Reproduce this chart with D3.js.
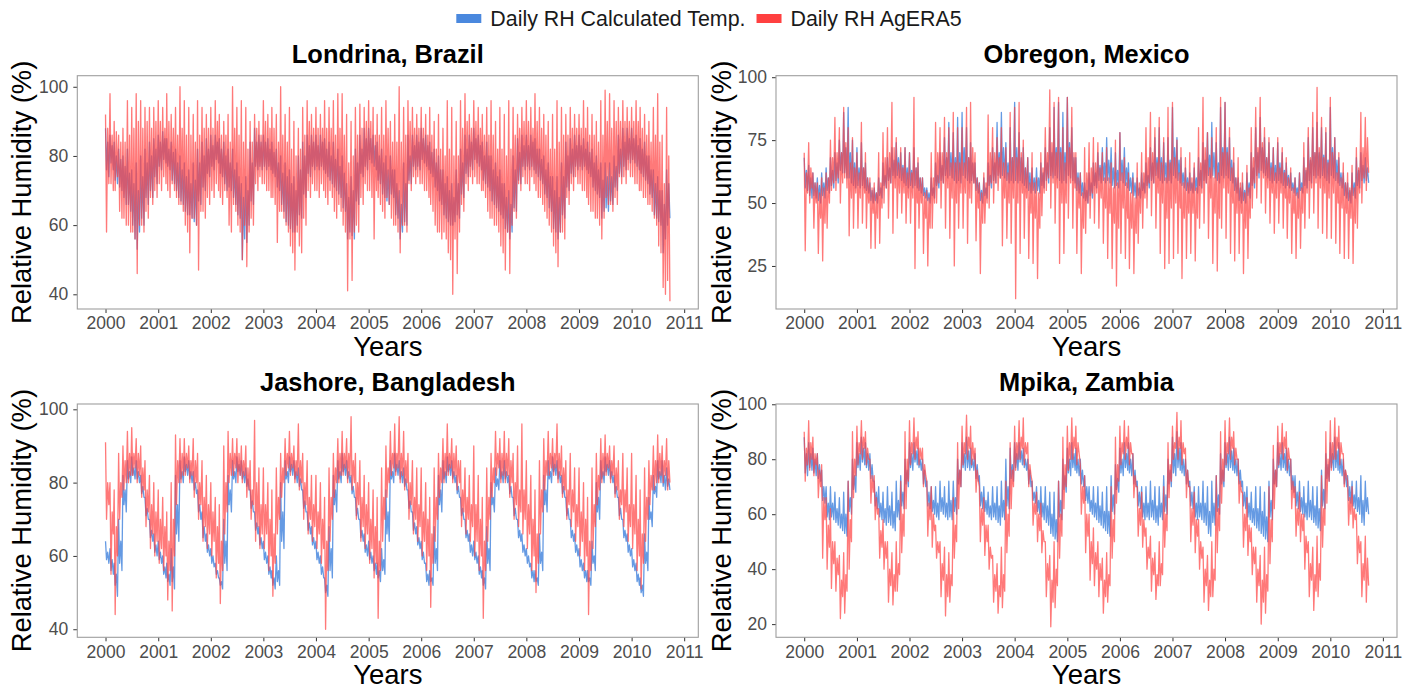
<!DOCTYPE html>
<html>
<head>
<meta charset="utf-8">
<script src="https://cdn.jsdelivr.net/npm/d3@7"></script>
<style>
body { margin: 0; background: #fff; }
svg text { font-family: "Liberation Sans", Arial, Helvetica, sans-serif; }
</style>
</head>
<body>
<svg id="chart" width="1417" height="691"></svg>
<script>
var yearTicks = [2000, 2001, 2002, 2003, 2004, 2005, 2006, 2007, 2008, 2009, 2010, 2011];
var seriesNames = ["Daily RH Calculated Temp.", "Daily RH AgERA5"];
var seriesColors = ["#4a88de", "#ff4040"];
var weekDays = [1, 8, 16, 24];

// roughly weekly values (4 per month), Jan 2000 - Sep 2010
var londrinaCalc = [
  88,76,84,74, 86,78,83,76, 84,73,80,72, 82,71,79,70, 80,68,77,66, 82,66,75,64, 76,60,72,56, 78,53,70,58, 80,62,74,60, 82,68,78,66, 84,70,80,68, 85,74,82,72,
  86,77,84,76, 87,79,85,78, 85,77,82,76, 84,73,81,72, 82,70,78,68, 80,67,76,66, 78,64,74,63, 76,63,72,62, 78,61,73,60, 82,67,78,66, 84,71,80,70, 85,75,82,74,
  86,77,83,76, 86,79,84,78, 85,75,82,74, 84,72,80,70, 82,71,78,70, 82,68,76,66, 78,63,74,62, 72,50,68,56, 74,55,70,60, 84,67,78,66, 88,77,84,76, 86,77,84,76,
  86,77,84,76, 85,77,82,76, 84,75,81,74, 82,71,78,70, 80,66,75,64, 78,61,74,60, 76,59,72,58, 74,58,70,60, 80,63,76,62, 84,69,80,68, 86,75,83,74, 86,77,84,76,
  86,77,83,76, 86,77,84,76, 85,75,82,74, 84,73,80,72, 84,71,79,70, 82,69,77,68, 80,65,75,64, 72,56,68,58, 74,57,70,56, 82,67,78,66, 86,75,82,74, 88,77,85,76,
  88,79,85,78, 86,77,83,76, 84,73,80,72, 82,69,78,68, 80,67,76,66, 80,69,76,68, 76,63,72,62, 70,56,66,58, 78,61,72,60, 86,73,80,72, 86,77,83,76, 86,77,84,76,
  88,79,85,78, 86,77,83,76, 84,75,81,74, 82,71,78,70, 80,67,76,66, 76,63,72,62, 74,61,70,60, 72,60,68,61, 76,63,72,62, 82,69,78,68, 86,75,82,74, 86,77,84,76,
  88,79,85,78, 86,77,83,76, 84,73,80,72, 84,71,80,70, 80,67,76,66, 78,65,74,64, 76,63,72,62, 72,59,68,58, 70,56,66,58, 80,65,76,64, 85,73,81,72, 86,77,83,76,
  86,77,83,76, 86,77,84,76, 85,75,82,74, 82,73,79,72, 80,69,76,68, 78,65,74,64, 74,59,70,58, 74,56,68,58, 78,63,74,62, 84,71,80,70, 85,75,82,74, 86,77,83,76,
  86,77,83,76, 85,77,82,76, 84,75,81,74, 82,71,78,70, 80,69,76,68, 78,62,73,64, 78,65,74,64, 78,67,74,66, 80,71,77,70, 86,75,82,74, 88,77,84,76, 88,79,85,78,
  88,79,85,78, 86,77,83,76, 85,75,82,74, 84,73,80,72, 80,69,76,68, 76,63,72,62, 74,61,70,60, 70,52,66,56, 76,60,72,62
];
var londrinaAgera = [
  92,58,88,72, 98,72,86,70, 90,70,87,74, 86,64,84,62, 88,62,84,60, 96,60,86,58, 94,58,88,56, 98,46,90,60, 96,60,88,58, 94,64,90,62, 94,68,88,66, 94,70,90,68,
  96,72,90,70, 94,74,88,72, 98,70,90,68, 92,72,88,70, 94,68,86,66, 100,66,88,64, 96,60,86,58, 94,52,86,62, 92,62,84,60, 96,47,86,64, 94,64,88,62, 92,68,88,66,
  94,70,88,68, 96,72,90,70, 92,68,86,66, 90,70,86,68, 92,60,84,58, 100,66,88,64, 94,60,86,58, 96,50,84,60, 94,48,82,58, 90,62,84,60, 92,72,88,70, 90,74,86,72,
  96,72,90,70, 92,70,88,68, 94,68,88,66, 92,55,84,64, 100,64,86,62, 92,60,84,58, 94,54,82,52, 90,47,80,58, 88,54,82,52, 94,62,86,60, 96,70,90,68, 92,72,88,70,
  94,70,88,68, 92,72,88,70, 96,68,88,66, 94,70,88,68, 96,64,86,62, 98,66,88,64, 98,60,86,58, 92,41,78,56, 90,44,80,58, 94,60,86,58, 95,68,88,66, 94,72,90,70,
  96,70,90,68, 94,56,86,70, 92,68,86,66, 94,64,86,62, 96,68,88,66, 90,62,84,60, 92,60,84,58, 100,52,84,60, 94,60,86,58, 96,72,90,70, 94,74,88,72, 92,74,88,72,
  94,72,88,70, 92,70,86,68, 94,66,86,64, 90,60,82,58, 92,58,82,56, 88,58,80,56, 96,52,82,50, 94,40,80,56, 90,46,80,58, 96,66,88,64, 98,72,90,70, 92,74,88,72,
  96,74,90,72, 94,72,88,70, 92,70,86,68, 94,64,86,62, 96,62,86,60, 90,60,82,58, 94,54,82,52, 92,47,80,58, 96,46,82,60, 94,64,86,62, 92,72,88,70, 94,74,90,72,
  96,72,90,70, 94,74,88,72, 98,70,90,68, 94,68,88,66, 92,64,86,62, 90,60,82,58, 92,54,82,52, 96,48,84,58, 94,58,86,56, 92,68,86,66, 94,72,88,70, 92,74,88,72,
  92,72,88,70, 96,70,88,68, 94,66,86,64, 92,64,86,62, 90,62,84,60, 96,56,86,62, 99,68,90,66, 98,66,88,64, 96,68,90,66, 94,74,90,72, 96,74,90,72, 94,76,90,74,
  94,74,90,72, 96,72,90,70, 94,70,88,68, 92,68,86,66, 90,66,84,64, 94,62,86,60, 98,54,84,52, 86,42,72,40, 94,44,80,38
];
var obregonCalc = [
  68,56,63,55, 65,53,60,52, 62,53,58,52, 60,51,57,50, 62,53,58,52, 64,55,60,54, 68,57,63,56, 70,59,66,58, 75,63,70,62, 86,62,72,60, 88,60,70,58, 75,57,66,56,
  72,57,64,56, 74,57,64,56, 66,55,60,54, 58,51,55,50, 56,51,54,50, 60,53,56,52, 66,57,61,56, 68,59,64,58, 72,61,67,60, 74,61,68,60, 70,59,65,58, 72,57,64,56,
  70,57,63,56, 72,57,64,56, 66,55,60,54, 60,53,56,52, 56,51,54,50, 60,53,56,52, 66,57,61,56, 70,59,65,58, 76,61,68,60, 82,61,70,60, 78,59,68,58, 84,59,70,58,
  86,61,72,60, 80,59,68,58, 74,59,66,58, 66,55,60,54, 58,51,55,50, 60,53,56,52, 66,57,61,56, 72,59,66,58, 82,61,70,60, 86,61,72,60, 74,59,66,58, 80,59,68,58,
  90,59,72,58, 78,59,68,58, 72,57,64,56, 68,55,62,54, 64,55,60,54, 64,55,60,54, 66,57,62,56, 72,59,66,58, 80,61,70,60, 88,61,72,60, 90,59,72,58, 86,59,70,58,
  92,61,74,60, 80,59,68,58, 68,55,62,54, 62,53,58,52, 58,51,55,50, 62,53,58,52, 66,57,62,56, 70,59,65,58, 72,59,66,58, 76,59,67,58, 72,57,64,56, 70,57,63,56,
  78,59,67,58, 72,57,64,56, 66,55,60,54, 62,53,58,52, 60,53,56,52, 62,55,58,54, 66,57,61,56, 72,59,66,58, 76,61,68,60, 80,59,68,58, 74,59,66,58, 76,59,67,58,
  88,61,72,60, 76,59,67,58, 68,57,62,56, 64,55,60,54, 62,55,58,54, 64,55,60,54, 68,57,63,56, 74,59,67,58, 78,61,69,60, 82,61,70,60, 74,59,66,58, 88,61,72,60,
  90,61,72,60, 76,59,67,58, 66,55,60,54, 60,51,56,50, 58,51,55,50, 62,53,58,52, 70,57,64,56, 80,61,70,60, 84,63,72,62, 76,61,68,60, 74,59,66,58, 72,59,65,58,
  74,59,66,58, 70,57,63,56, 66,57,61,56, 62,55,58,54, 60,53,56,52, 62,55,58,54, 68,57,63,56, 76,59,67,58, 80,61,70,60, 82,61,70,60, 80,61,69,60, 78,59,67,58,
  88,61,72,60, 76,59,67,58, 68,57,62,56, 62,53,58,52, 58,51,55,50, 62,53,58,52, 68,57,63,56, 70,59,65,58, 68,59,64,58
];
var obregonAgera = [
  70,31,62,54, 74,50,64,56, 62,40,58,50, 58,30,54,44, 60,27,56,42, 62,40,60,50, 75,55,68,58, 84,55,70,60, 80,50,70,58, 88,60,74,56, 80,37,66,52, 76,40,64,54,
  70,40,62,52, 82,42,64,54, 70,40,60,50, 60,32,56,46, 58,32,54,44, 70,34,58,48, 78,50,68,56, 80,44,70,58, 90,38,72,56, 76,44,66,54, 72,46,64,54, 72,42,62,52,
  70,42,62,52, 92,24,64,50, 68,40,60,50, 60,30,54,44, 55,25,52,40, 70,40,60,50, 82,50,70,58, 80,48,70,58, 84,40,70,56, 80,36,66,52, 86,25,66,50, 80,40,66,54,
  80,40,66,54, 88,34,68,52, 90,50,72,58, 70,35,60,48, 58,22,54,42, 62,42,58,50, 85,48,70,58, 80,50,70,58, 76,55,68,60, 80,33,66,52, 72,36,62,50, 86,34,68,52,
  88,12,68,50, 90,30,70,54, 75,36,64,52, 68,28,58,46, 70,26,58,44, 60,20,54,40, 70,45,64,54, 80,55,70,60, 95,48,74,58, 90,42,70,56, 92,26,70,50, 80,30,66,50,
  92,44,72,58, 88,40,70,56, 70,30,60,48, 62,22,54,40, 72,38,62,50, 74,44,64,54, 76,42,66,54, 74,40,64,52, 70,34,60,48, 72,28,60,46, 66,24,56,42, 75,17,58,40,
  78,30,62,48, 68,28,58,44, 62,24,54,40, 60,22,52,38, 66,34,58,46, 70,40,62,52, 80,48,68,58, 86,45,70,58, 80,40,66,54, 84,30,66,50, 76,24,60,44, 88,26,66,48,
  90,28,68,50, 75,30,62,48, 72,20,58,44, 68,28,58,46, 70,30,60,46, 66,27,56,44, 80,40,66,54, 92,42,72,58, 78,36,64,52, 76,26,60,46, 80,23,62,44, 92,40,70,56,
  90,36,70,54, 80,30,64,50, 72,27,60,46, 68,30,58,46, 62,22,54,40, 65,28,56,44, 80,48,68,58, 88,52,72,62, 92,50,74,60, 80,46,68,56, 76,42,64,54, 72,38,62,52,
  76,42,64,54, 72,40,62,52, 68,36,60,50, 64,30,56,46, 60,28,54,44, 62,32,56,46, 74,40,64,54, 80,44,68,56, 86,46,70,58, 96,40,72,56, 84,38,68,54, 80,36,66,52,
  92,36,70,54, 76,34,62,50, 70,30,60,48, 66,28,58,46, 62,28,56,44, 65,26,56,42, 72,40,64,54, 86,50,72,60, 84,55,76,62
];
var jashoreCalc = [
  64,59,61,58, 62,56,59,55, 58,52,55,49, 70,58,64,56, 82,74,78,72, 86,81,83,80, 87,82,84,81, 86,81,83,80, 82,77,79,76, 76,71,73,70, 70,65,67,64, 66,61,63,60,
  64,59,61,58, 60,55,57,54, 58,53,55,52, 62,53,57,51, 82,66,74,64, 86,81,83,80, 87,83,85,82, 86,81,83,80, 83,78,80,77, 78,72,74,70, 72,65,68,64, 66,61,63,60,
  62,58,60,57, 58,55,56,54, 54,52,53,51, 70,58,64,56, 82,74,78,72, 86,81,83,80, 87,83,85,82, 86,81,83,80, 84,79,81,78, 78,73,75,72, 72,67,69,66, 68,63,65,62,
  64,59,61,58, 60,55,57,54, 56,52,54,51, 60,53,56,52, 80,64,72,62, 86,81,83,80, 87,83,85,82, 86,81,83,80, 84,79,81,78, 78,73,75,72, 72,67,69,66, 68,63,65,62,
  64,59,61,58, 60,55,57,54, 54,50,52,49, 68,56,62,54, 82,74,78,72, 86,81,83,80, 88,83,85,82, 86,81,83,80, 82,77,79,76, 76,71,73,70, 70,65,67,64, 66,61,63,60,
  64,59,61,58, 60,56,58,55, 58,54,56,53, 62,56,59,55, 78,66,72,64, 86,81,83,80, 88,83,85,82, 86,81,83,80, 84,79,81,78, 78,73,75,72, 72,67,69,66, 68,63,65,62,
  64,59,61,58, 58,53,55,52, 56,53,54,52, 68,58,62,56, 82,74,78,72, 86,81,83,80, 87,83,85,82, 86,81,83,80, 82,77,79,76, 76,71,73,70, 70,65,67,64, 66,61,63,60,
  64,59,61,58, 60,55,57,54, 56,52,54,51, 68,58,62,56, 80,74,76,72, 84,79,81,78, 86,81,83,80, 86,81,83,80, 82,77,79,76, 76,71,73,70, 70,65,67,64, 66,61,63,60,
  62,58,60,57, 58,54,56,53, 56,53,54,52, 66,58,61,56, 82,74,78,72, 86,81,83,80, 87,83,85,82, 86,81,83,80, 82,77,79,76, 76,71,73,70, 70,65,67,64, 66,61,63,60,
  62,57,59,56, 58,54,56,53, 56,53,54,52, 64,58,60,56, 80,72,76,70, 86,81,83,80, 87,83,85,82, 86,81,83,80, 82,77,79,76, 76,71,73,70, 70,65,67,64, 66,61,63,60,
  62,57,59,56, 58,53,55,52, 54,50,52,49, 66,58,61,56, 76,70,72,68, 82,77,79,76, 86,81,83,80, 86,79,82,78, 84,79,81,78
];
var jashoreAgera = [
  91,70,80,74, 80,55,72,66, 78,44,68,60, 88,70,80,76, 90,78,86,80, 94,80,88,82, 95,82,88,84, 92,80,88,82, 90,76,84,78, 86,68,78,72, 82,62,74,66, 80,60,72,64,
  78,58,70,62, 76,56,68,60, 72,48,64,56, 80,45,70,60, 93,74,86,80, 92,80,88,82, 92,82,88,84, 90,80,86,82, 92,76,86,80, 88,70,80,74, 86,64,76,68, 82,62,74,66,
  80,60,72,64, 76,54,68,58, 74,47,64,56, 90,66,80,72, 94,80,88,82, 92,82,88,84, 92,80,88,82, 90,80,86,82, 90,76,84,78, 86,70,78,74, 97,64,80,68, 84,62,74,66,
  84,62,74,66, 80,56,70,60, 78,49,66,58, 84,66,76,70, 88,76,84,80, 92,82,88,84, 94,82,88,84, 90,80,86,82, 96,78,86,80, 88,70,80,74, 86,66,76,70, 82,64,74,68,
  82,62,72,66, 80,58,70,62, 76,40,64,56, 84,64,76,70, 88,76,84,80, 92,80,88,82, 94,82,88,84, 92,80,88,82, 98,78,86,80, 88,70,80,74, 86,64,76,68, 82,62,74,66,
  80,58,70,62, 78,54,68,58, 76,43,64,56, 84,64,76,70, 90,76,84,80, 94,82,88,84, 96,82,88,84, 98,80,88,82, 94,78,86,80, 88,70,80,74, 86,66,76,70, 84,64,74,68,
  84,60,72,64, 80,56,70,60, 76,46,66,58, 84,64,76,70, 88,76,84,80, 92,80,88,82, 96,82,88,84, 92,80,88,82, 90,78,86,80, 86,68,78,72, 84,66,76,70, 82,64,74,68,
  90,60,74,64, 82,56,70,60, 76,43,64,56, 84,64,76,70, 88,76,84,80, 94,82,88,84, 92,80,88,82, 94,80,88,82, 92,76,86,80, 88,70,80,74, 90,68,78,72, 96,66,78,70,
  86,62,74,66, 82,56,70,60, 78,50,66,58, 86,66,78,72, 92,78,86,82, 94,82,88,84, 92,82,88,84, 96,80,88,82, 90,76,84,78, 86,70,78,74, 88,68,78,72, 84,64,74,68,
  84,60,72,64, 80,56,70,60, 76,44,64,56, 84,62,74,68, 88,74,82,78, 92,80,88,82, 93,82,88,84, 90,80,86,82, 90,76,84,78, 86,70,78,74, 88,68,78,72, 84,64,74,68,
  88,62,74,66, 82,56,70,60, 78,51,66,58, 84,64,76,70, 86,74,82,78, 90,78,86,80, 93,80,88,82, 90,80,86,82, 92,78,86,80
];
var mpikaCalc = [
  88,75,82,74, 86,77,82,76, 84,75,80,74, 82,73,78,72, 76,65,70,64, 70,59,64,58, 70,59,64,58, 68,57,62,56, 66,55,60,54, 68,53,60,52, 72,61,66,60, 80,69,74,68,
  86,77,82,76, 88,79,84,78, 86,77,82,76, 82,73,78,72, 72,63,68,62, 70,59,64,58, 68,57,62,56, 70,57,63,56, 68,55,61,54, 72,59,65,58, 74,63,68,62, 80,71,76,70,
  86,77,82,76, 86,79,83,78, 84,77,80,76, 80,71,76,70, 72,63,68,62, 70,61,65,60, 70,59,64,58, 72,61,66,60, 70,59,64,58, 72,59,65,58, 72,61,66,60, 80,71,76,70,
  86,77,82,76, 88,77,83,76, 84,77,80,76, 82,73,78,72, 74,63,68,62, 70,61,65,60, 68,59,63,58, 70,59,64,58, 70,57,63,56, 72,59,65,58, 80,63,70,62, 84,73,78,72,
  86,77,82,76, 86,79,83,78, 84,77,80,76, 80,71,76,70, 72,65,68,64, 70,61,65,60, 70,59,64,58, 70,57,63,56, 68,53,60,52, 68,51,58,50, 72,59,65,58, 80,69,74,68,
  84,75,80,74, 86,77,82,76, 84,75,80,74, 80,71,76,70, 74,65,70,64, 70,61,65,60, 70,59,64,58, 70,57,63,56, 68,55,61,54, 70,53,61,52, 74,61,67,60, 78,69,73,68,
  84,75,80,74, 86,77,82,76, 86,75,80,74, 82,71,76,70, 72,63,68,62, 70,59,64,58, 70,59,64,58, 72,59,65,58, 70,57,63,56, 70,59,64,58, 74,61,67,60, 80,71,76,70,
  88,75,82,74, 90,77,84,76, 86,75,80,74, 80,71,76,70, 72,63,68,62, 70,59,64,58, 70,59,64,58, 72,57,64,56, 70,53,61,52, 72,57,64,56, 74,61,67,60, 82,71,76,70,
  86,77,82,76, 88,77,83,76, 84,75,80,74, 80,71,76,70, 72,63,68,62, 70,59,64,58, 68,57,62,56, 70,55,62,54, 70,53,61,52, 68,51,59,50, 72,59,65,58, 80,71,76,70,
  86,77,82,76, 86,77,82,76, 84,75,80,74, 80,69,74,68, 74,63,68,62, 72,61,66,60, 70,59,64,58, 72,59,65,58, 70,57,63,56, 70,55,62,54, 76,63,69,62, 82,73,78,72,
  86,77,82,76, 88,77,83,76, 86,75,80,74, 80,71,76,70, 74,65,70,64, 72,63,67,62, 72,61,66,60, 74,57,65,56, 72,61,66,60
];
var mpikaAgera = [
  90,72,84,78, 94,76,86,80, 88,74,82,78, 82,66,76,70, 78,44,66,58, 66,40,56,48, 62,33,50,42, 50,32,44,38, 45,22,36,30, 46,24,38,32, 72,40,58,50, 90,66,80,74,
  92,78,86,82, 94,80,88,84, 90,78,84,80, 80,64,74,68, 74,58,66,60, 62,44,54,48, 58,40,50,44, 50,28,40,34, 46,27,38,32, 50,32,42,38, 72,46,60,52, 90,62,80,72,
  94,78,86,82, 95,80,88,84, 90,78,84,80, 84,70,78,74, 72,52,64,58, 70,48,60,54, 56,44,50,46, 50,30,42,36, 48,23,38,30, 46,28,38,34, 66,44,56,50, 86,62,76,70,
  92,78,86,82, 96,80,88,84, 92,78,86,80, 84,68,76,72, 70,50,62,56, 66,45,56,50, 56,40,48,44, 45,28,38,32, 42,24,34,30, 48,26,38,32, 72,46,60,52, 86,62,76,70,
  92,76,86,80, 94,80,88,84, 95,78,86,82, 86,70,78,74, 72,56,64,60, 68,50,60,54, 64,46,54,50, 50,30,42,36, 45,19,36,28, 50,26,40,34, 72,44,60,52, 88,62,78,70,
  92,76,86,80, 95,80,88,84, 92,78,86,82, 78,60,70,64, 74,46,60,52, 60,36,50,42, 55,34,46,40, 50,30,42,36, 44,24,36,30, 46,28,38,34, 70,44,58,50, 88,64,78,72,
  92,78,86,82, 94,80,88,84, 92,78,86,82, 82,66,74,70, 70,52,62,56, 68,48,58,52, 55,40,48,44, 52,32,44,38, 46,29,38,34, 50,34,42,38, 70,48,60,54, 86,66,78,72,
  92,80,86,84, 97,80,88,84, 94,78,86,82, 84,66,76,70, 70,50,62,56, 68,46,58,52, 58,40,50,44, 48,28,40,34, 45,25,36,30, 50,30,40,36, 74,46,62,54, 90,64,80,72,
  94,78,86,82, 95,80,88,84, 90,78,84,80, 80,64,72,68, 68,48,60,54, 66,45,56,50, 55,38,48,42, 48,28,40,34, 45,20,36,28, 48,24,38,32, 70,42,58,50, 85,62,76,70,
  92,78,86,82, 93,80,88,84, 90,76,84,80, 80,62,72,66, 70,52,62,56, 68,50,60,54, 60,40,52,46, 50,30,42,36, 48,25,38,32, 52,30,42,36, 74,48,62,56, 90,64,80,72,
  94,76,86,80, 95,80,88,84, 92,78,86,82, 82,70,76,74, 72,56,66,60, 70,55,62,58, 60,42,52,46, 50,30,42,36, 52,28,44,34
];

var panels = [
  { title: "Londrina, Brazil", calc: londrinaCalc, agera: londrinaAgera,
    yDomain: [35.75, 103.2], yTicks: [40, 60, 80, 100], left: 77.3, top: 75.7 },
  { title: "Obregon, Mexico", calc: obregonCalc, agera: obregonAgera,
    yDomain: [7.9, 100.6], yTicks: [25, 50, 75, 100], left: 776, top: 75.7 },
  { title: "Jashore, Bangladesh", calc: jashoreCalc, agera: jashoreAgera,
    yDomain: [37.8, 101.45], yTicks: [40, 60, 80, 100], left: 77.3, top: 404 },
  { title: "Mpika, Zambia", calc: mpikaCalc, agera: mpikaAgera,
    yDomain: [15.2, 100.1], yTicks: [20, 40, 60, 80, 100], left: 776, top: 404 }
];
var pw = 621, ph = 233.3;

function dateAt(i) {
  return new Date(2000 + Math.floor(i / 48), Math.floor((i % 48) / 4), weekDays[i % 4]);
}

var svg = d3.select("#chart");

panels.forEach(function(p) {
  var x = d3.scaleTime()
    .domain([new Date(1999, 5, 19), new Date(2011, 3, 9)])
    .range([0, pw]);
  var y = d3.scaleLinear().domain(p.yDomain).range([ph, 0]);

  var g = svg.append("g").attr("transform", "translate(" + p.left + "," + p.top + ")");

  var line = d3.line()
    .x(function(d, i) { return x(dateAt(i)); })
    .y(function(d) { return y(d); });

  g.append("path").datum(p.calc)
    .attr("d", line)
    .attr("fill", "none")
    .attr("stroke", seriesColors[0])
    .attr("stroke-opacity", 0.85)
    .attr("stroke-width", 1.3)
    .attr("stroke-linejoin", "round");

  g.append("path").datum(p.agera)
    .attr("d", line)
    .attr("fill", "none")
    .attr("stroke", seriesColors[1])
    .attr("stroke-opacity", 0.7)
    .attr("stroke-width", 1.3)
    .attr("stroke-linejoin", "round");

  // axes
  var xAxis = g.append("g")
    .attr("transform", "translate(0," + ph + ")")
    .call(d3.axisBottom(x)
      .tickValues(yearTicks.map(function(yr) { return new Date(yr, 0, 1); }))
      .tickFormat(d3.timeFormat("%Y"))
      .tickSize(4).tickPadding(4));
  var yAxis = g.append("g")
    .call(d3.axisLeft(y).tickValues(p.yTicks).tickSize(4).tickPadding(5));

  [xAxis, yAxis].forEach(function(a) {
    a.select(".domain").remove();
    a.selectAll(".tick line").attr("stroke", "#333");
    a.selectAll(".tick text")
      .attr("fill", "#4d4d4d")
      .style("font-size", "17.5px");
  });

  g.append("rect")
    .attr("width", pw).attr("height", ph)
    .attr("fill", "none")
    .attr("stroke", "#9e9e9e")
    .attr("stroke-width", 1.1);

  // titles
  g.append("text")
    .attr("x", pw / 2).attr("y", -13)
    .attr("text-anchor", "middle")
    .style("font-size", "25.4px")
    .style("font-weight", "bold")
    .text(p.title);

  g.append("text")
    .attr("x", pw / 2).attr("y", ph + 47)
    .attr("text-anchor", "middle")
    .style("font-size", "27.5px")
    .text("Years");

  g.append("text")
    .attr("transform", "translate(" + (p.left < 400 ? 31 - p.left : 731 - p.left) + "," + (ph / 2) + ") rotate(-90)")
    .attr("text-anchor", "middle")
    .style("font-size", "27.4px")
    .text("Relative Humidity (%)");
});

// legend
var legend = svg.append("g");
var lx = 0;
seriesNames.forEach(function(name, i) {
  legend.append("rect")
    .attr("x", lx).attr("y", 14)
    .attr("width", 25).attr("height", 9)
    .attr("fill", seriesColors[i]);
  var t = legend.append("text")
    .attr("x", lx + 34).attr("y", 25.5)
    .style("font-size", "21.4px")
    .attr("fill", "#1a1a1a")
    .text(name);
  lx += 34 + t.node().getComputedTextLength() + 11;
});
var legendWidth = lx - 11;
legend.attr("transform", "translate(" + (709 - legendWidth / 2) + ",0)");
</script>
</body>
</html>
